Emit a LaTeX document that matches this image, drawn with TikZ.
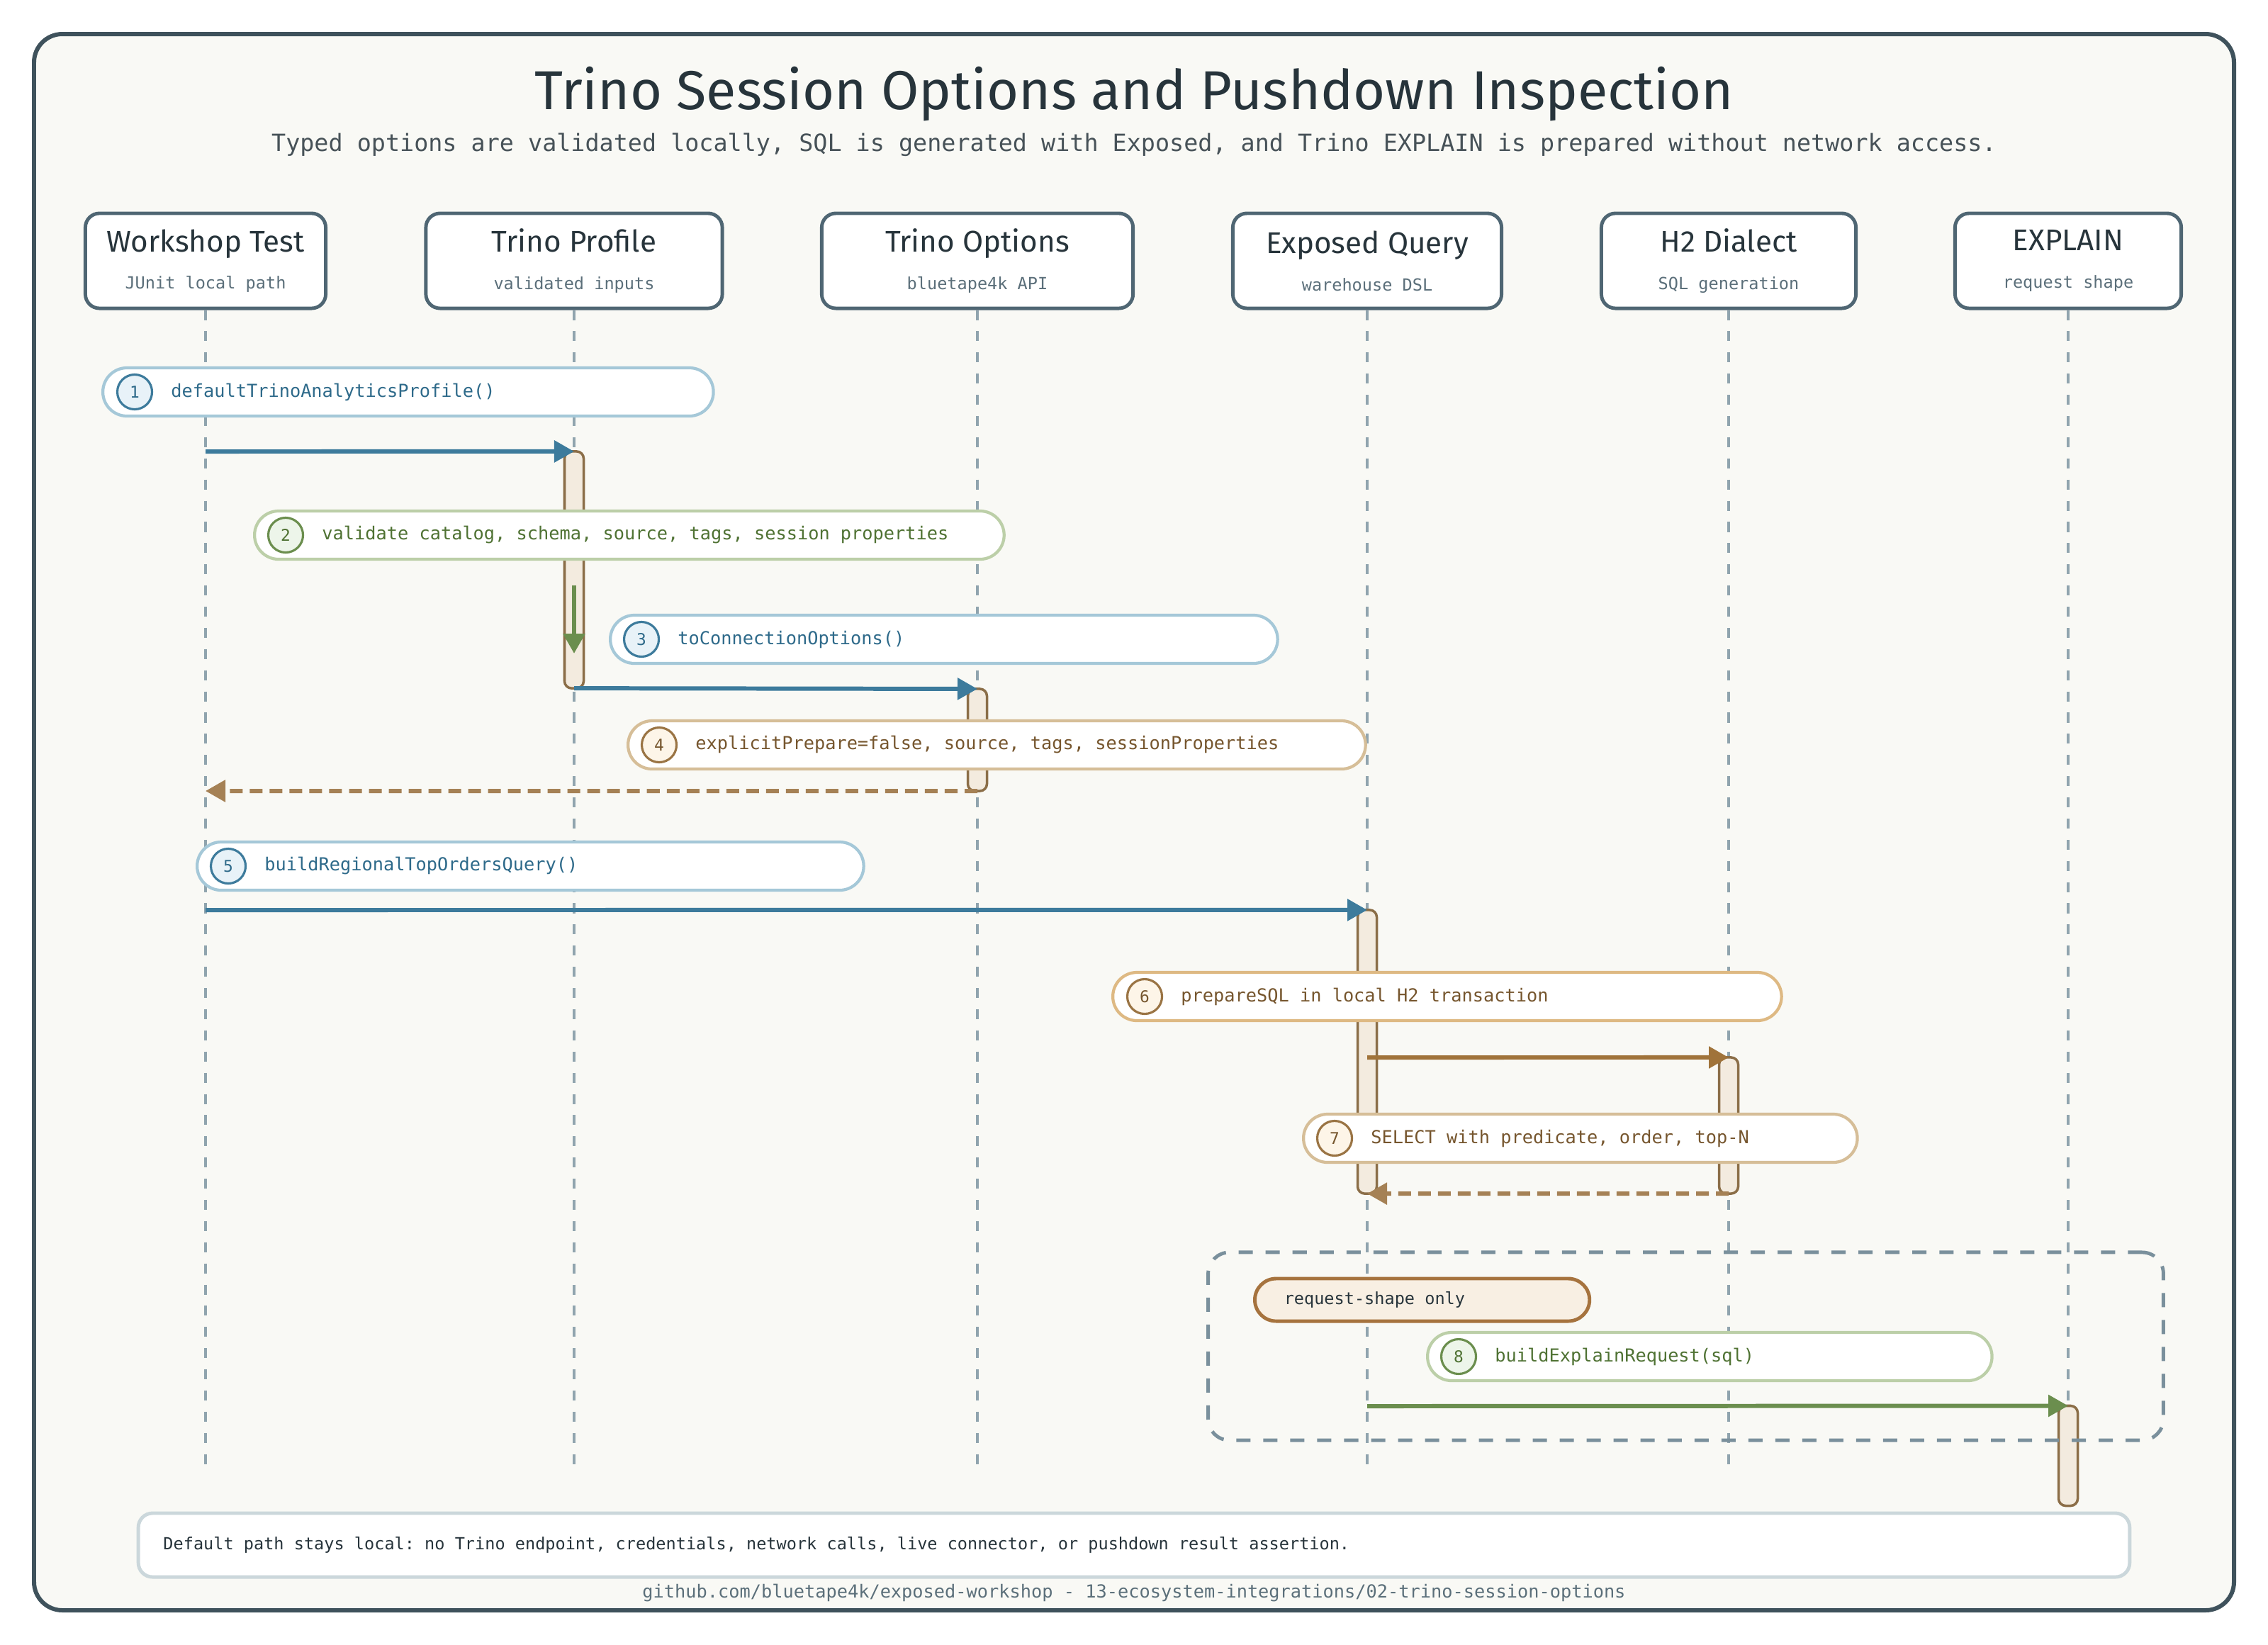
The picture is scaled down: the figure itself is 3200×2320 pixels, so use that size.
\documentclass[tikz,border=0pt]{standalone}
\usepackage{fontspec}
\setmainfont{Fira Sans}
\setmonofont{DejaVu Sans Mono}
\usetikzlibrary{arrows.meta,positioning}
\definecolor{ink}{HTML}{27343B}
\definecolor{frameln}{HTML}{3F525C}
\definecolor{paper}{HTML}{F9F9F5}
\definecolor{slate}{HTML}{4F6673}
\definecolor{subink}{HTML}{5B6F7A}
\definecolor{life}{HTML}{90A4AE}
\definecolor{bluedk}{HTML}{3D7B9C}
\definecolor{bluetx}{HTML}{2E6A8A}
\definecolor{bluelt}{HTML}{A5C8D8}
\definecolor{bluefl}{HTML}{E8F2F8}
\definecolor{greendk}{HTML}{6B8E4E}
\definecolor{greentx}{HTML}{4F7233}
\definecolor{greenlt}{HTML}{BCCFA8}
\definecolor{greenfl}{HTML}{EDF5EA}
\definecolor{browndk}{HTML}{9A7444}
\definecolor{browntx}{HTML}{76562E}
\definecolor{tanlt}{HTML}{D6BE98}
\definecolor{orangelt}{HTML}{DEB983}
\definecolor{tanfl}{HTML}{FDF5E8}
\definecolor{arrowbr}{HTML}{A0733A}
\definecolor{retbr}{HTML}{A58155}
\definecolor{barfl}{HTML}{F3EBDF}
\definecolor{barln}{HTML}{8B6E48}
\definecolor{groupln}{HTML}{7A909C}
\definecolor{tagfl}{HTML}{F8EFE3}
\definecolor{tagln}{HTML}{A6733E}
\definecolor{footln}{HTML}{CBD7DB}
\newcommand\actsub{\ttfamily\fontsize{6.7}{8}\selectfont\color{subink}}
\begin{document}
\begin{tikzpicture}[x=0.01cm,y=-0.01cm,
  actor/.style={draw=slate,line width=1.4pt,fill=white,rounded corners=0.2cm,minimum height=1.34cm,align=center,inner sep=0pt,text=ink,font=\fontsize{12}{14}\selectfont},
  lifeline/.style={life,line width=0.9pt,dash pattern=on 4pt off 4.5pt},
  actbar/.style={draw=barln,fill=barfl,line width=1pt,rounded corners=0.1cm,minimum width=0.27cm,inner sep=0pt,outer sep=0pt},
  pill/.style={fill=white,line width=1.2pt,rounded corners=0.34cm,minimum height=0.68cm,inner sep=0pt,anchor=west},
  bluepill/.style={pill,draw=bluelt},
  greenpill/.style={pill,draw=greenlt},
  tanpill/.style={pill,draw=tanlt},
  orangepill/.style={pill,draw=orangelt},
  num/.style={circle,line width=0.9pt,minimum size=0.49cm,inner sep=0pt,font=\ttfamily\fontsize{6.5}{7}\selectfont},
  numblue/.style={num,draw=bluedk,fill=bluefl,text=bluetx},
  numgreen/.style={num,draw=greendk,fill=greenfl,text=greentx},
  numtan/.style={num,draw=browndk,fill=tanfl,text=browntx},
  msgtext/.style={font=\ttfamily\fontsize{7.2}{8}\selectfont,inner sep=0pt,anchor=west},
  msg/.style={line width=1.7pt,-{Triangle[length=0.28cm,width=0.3cm]}},
  retmsg/.style={msg,retbr,dash pattern=on 0.18cm off 0.1cm},
  groupbox/.style={draw=groupln,line width=1.4pt,dash pattern=on 0.2cm off 0.18cm,rounded corners=0.3cm,inner sep=0pt},
  tagbox/.style={draw=tagln,fill=tagfl,line width=1.4pt,rounded corners=0.3cm,minimum height=0.6cm,inner sep=0pt,anchor=west}]
\useasboundingbox (0,0) rectangle (3200,2320);
\draw[frameln,line width=1.7pt,fill=paper,rounded corners=0.4cm] (48,48) rectangle (3152,2272);

% heading
\node[font=\fontsize{22}{26}\selectfont,text=ink] (title) at (1600,133) {Trino Session Options and Pushdown Inspection};
\node[font=\ttfamily\fontsize{9.5}{11}\selectfont,text=ink!85] (subtitle) at (1600,204)
  {Typed options are validated locally, SQL is generated with Exposed, and Trino EXPLAIN is prepared without network access.};

% participants
\node[actor,minimum width=3.39cm] (test) at (290,368) {Workshop Test\\[1pt]{\actsub JUnit local path}};
\node[actor,minimum width=4.18cm] (profile) at (810,368) {Trino Profile\\[1pt]{\actsub validated inputs}};
\node[actor,minimum width=4.39cm] (options) at (1379,368) {Trino Options\\[1pt]{\actsub bluetape4k API}};
\node[actor,minimum width=3.79cm] (query) at (1929,368) {Exposed Query\\[1pt]{\actsub warehouse DSL}};
\node[actor,minimum width=3.59cm] (dialect) at (2439,368) {H2 Dialect\\[1pt]{\actsub SQL generation}};
\node[actor,minimum width=3.19cm] (explain) at (2918,368) {EXPLAIN\\[1pt]{\actsub request shape}};

% lifelines
\coordinate (testend) at (290,2071);
\coordinate (profileend) at (810,2071);
\coordinate (optionsend) at (1379,2071);
\coordinate (queryend) at (1929,2071);
\coordinate (dialectend) at (2439,2071);
\coordinate (explainend) at (2918,2071);
\draw[lifeline] (test) -- (testend);
\draw[lifeline] (profile) -- (profileend);
\draw[lifeline] (options) -- (optionsend);
\draw[lifeline] (query) -- (queryend);
\draw[lifeline] (dialect) -- (dialectend);
\draw[lifeline] (explain) -- (explainend);

% activations
\node[actbar,minimum height=3.34cm] (profilebar) at (810,804) {};
\node[actbar,minimum height=1.44cm] (optionsbar) at (1379,1044) {};
\node[actbar,minimum height=4.0cm] (querybar) at (1929,1484) {};
\node[actbar,minimum height=1.92cm] (dialectbar) at (2439,1588) {};
\node[actbar,minimum height=1.41cm] (explainbar) at (2918,2054) {};

% messages
\coordinate (m1) at (290,637);
\coordinate (m2a) at (810,826);
\coordinate (m2b) at (810,922);
\coordinate (m5) at (290,1284);
\coordinate (m4) at (290,1116);
\coordinate (m6) at (1929,1492);
\coordinate (m8) at (1929,1984);
\draw[msg,bluedk] (m1) -- (profilebar.north);
\draw[msg,greendk] (m2a) -- (m2b);
\draw[msg,bluedk] (profilebar.south) -- (optionsbar.north);
\draw[retmsg] (optionsbar.south) -- (m4);
\draw[msg,bluedk] (m5) -- (querybar.north);
\draw[msg,arrowbr] (m6) -- (dialectbar.north);
\draw[retmsg] (dialectbar.south) -- (querybar.south);
\draw[msg,greendk] (m8) -- (explainbar.north);

% notes
\node[bluepill,minimum width=8.61cm] (n1) at (143,553) {};
\node[numblue] (c1) at ([xshift=0.47cm]n1.west) {1};
\node[msgtext,text=bluetx,right=0.245cm of c1] (t1) {defaultTrinoAnalyticsProfile()};

\node[greenpill,minimum width=10.57cm] (n2) at (357,755) {};
\node[numgreen] (c2) at ([xshift=0.46cm]n2.west) {2};
\node[msgtext,text=greentx,right=0.245cm of c2] (t2) {validate catalog, schema, source, tags, session properties};

\node[bluepill,minimum width=9.41cm] (n3) at (859,902) {};
\node[numblue] (c3) at ([xshift=0.46cm]n3.west) {3};
\node[msgtext,text=bluetx,right=0.245cm of c3] (t3) {toConnectionOptions()};

\node[tanpill,minimum width=10.40cm] (n4) at (884,1051) {};
\node[numtan] (c4) at ([xshift=0.46cm]n4.west) {4};
\node[msgtext,text=browntx,right=0.245cm of c4] (t4) {explicitPrepare=false, source, tags, sessionProperties};

\node[bluepill,minimum width=9.40cm] (n5) at (276,1222) {};
\node[numblue] (c5) at ([xshift=0.46cm]n5.west) {5};
\node[msgtext,text=bluetx,right=0.245cm of c5] (t5) {buildRegionalTopOrdersQuery()};

\node[orangepill,minimum width=9.43cm] (n6) at (1568,1406) {};
\node[numtan] (c6) at ([xshift=0.47cm]n6.west) {6};
\node[msgtext,text=browntx,right=0.245cm of c6] (t6) {prepareSQL in local H2 transaction};

\node[tanpill,minimum width=7.81cm] (n7) at (1837,1606) {};
\node[numtan] (c7) at ([xshift=0.46cm]n7.west) {7};
\node[msgtext,text=browntx,right=0.245cm of c7] (t7) {SELECT with predicate, order, top-N};

% request-shape group
\node[groupbox,minimum width=13.47cm,minimum height=2.65cm] (grp) at (2378.5,1899.5) {};
\node[tagbox,minimum width=4.72cm] (tag) at (1768,1834) {};
\node[msgtext,font=\ttfamily\fontsize{6.7}{8}\selectfont,text=ink] (tagtext) at ([xshift=0.43cm]tag.west) {request-shape only};

\node[greenpill,minimum width=7.96cm] (n8) at (2012,1914) {};
\node[numgreen] (c8) at ([xshift=0.46cm]n8.west) {8};
\node[msgtext,text=greentx,right=0.245cm of c8] (t8) {buildExplainRequest(sql)};

% footer
\node[draw=footln,line width=1.4pt,fill=white,rounded corners=0.2cm,minimum width=28.08cm,minimum height=0.9cm,inner sep=0pt] (foot) at (1600,2180) {};
\node[msgtext,font=\ttfamily\fontsize{6.7}{8}\selectfont,text=ink] (foottext) at ([xshift=0.37cm]foot.west)
  {Default path stays local: no Trino endpoint, credentials, network calls, live connector, or pushdown result assertion.};
\node[font=\ttfamily\fontsize{7.2}{8}\selectfont,text=subink] (credit) at (1600,2247)
  {github.com/bluetape4k/exposed-workshop - 13-ecosystem-integrations/02-trino-session-options};
\end{tikzpicture}
\end{document}
